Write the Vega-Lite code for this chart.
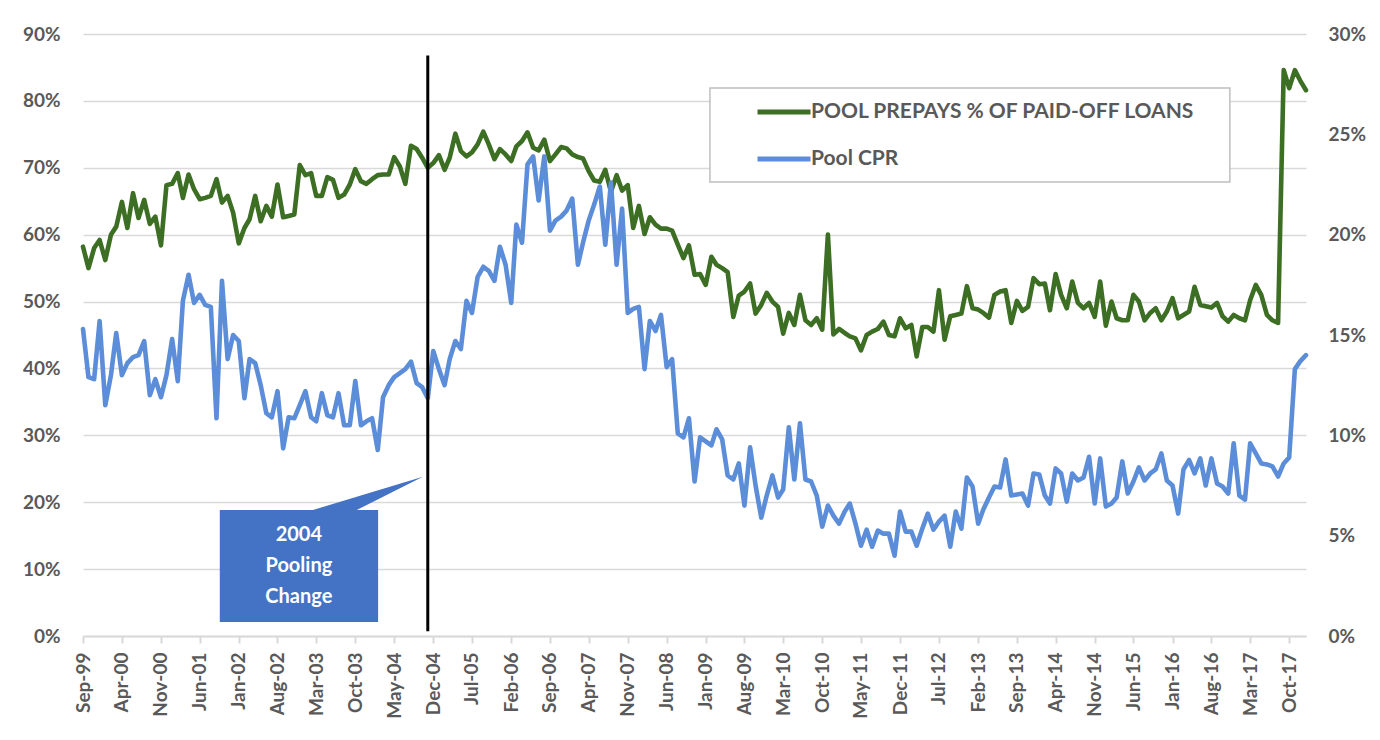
{
  "$schema": "https://vega.github.io/schema/vega-lite/v6.json",
  "width": 1223,
  "height": 602,
  "autosize": {"type": "none"},
  "padding": {"left": 83, "top": 34, "right": 74, "bottom": 104},
  "background": "white",
  "config": {
    "view": {"stroke": null},
    "font": "Lato",
    "axisX": {"labelAngle": 270, "labelOverlap": false, "tickCount": 60, "domainColor": "#d9d9d9", "domainWidth": 2, "tickColor": "#d9d9d9", "tickWidth": 2, "tickSize": 7, "grid": false, "labelFont": "Lato", "labelFontSize": 19, "labelFontWeight": "bold", "labelColor": "#595959", "labelPadding": 9}
  },
  "datasets": {
    "series": [
      {"m":"1999-09-01","prepays":58.2,"cpr":15.3},{"m":"1999-10-01","prepays":55.0,"cpr":12.9},{"m":"1999-11-01","prepays":58.0,"cpr":12.8},{"m":"1999-12-01","prepays":59.2,"cpr":15.7},
      {"m":"2000-01-01","prepays":56.2,"cpr":11.5},{"m":"2000-02-01","prepays":60.0,"cpr":13.0},{"m":"2000-03-01","prepays":61.2,"cpr":15.1},{"m":"2000-04-01","prepays":64.9,"cpr":13.0},{"m":"2000-05-01","prepays":61.0,"cpr":13.6},{"m":"2000-06-01","prepays":66.2,"cpr":13.9},{"m":"2000-07-01","prepays":62.5,"cpr":14.0},{"m":"2000-08-01","prepays":65.2,"cpr":14.7},{"m":"2000-09-01","prepays":61.6,"cpr":12.0},{"m":"2000-10-01","prepays":62.7,"cpr":12.8},{"m":"2000-11-01","prepays":58.4,"cpr":11.9},{"m":"2000-12-01","prepays":67.4,"cpr":13.0},
      {"m":"2001-01-01","prepays":67.6,"cpr":14.8},{"m":"2001-02-01","prepays":69.2,"cpr":12.7},{"m":"2001-03-01","prepays":65.5,"cpr":16.7},{"m":"2001-04-01","prepays":69.0,"cpr":18.0},{"m":"2001-05-01","prepays":66.8,"cpr":16.6},{"m":"2001-06-01","prepays":65.3,"cpr":17.0},{"m":"2001-07-01","prepays":65.5,"cpr":16.5},{"m":"2001-08-01","prepays":65.8,"cpr":16.4},{"m":"2001-09-01","prepays":68.3,"cpr":10.85},{"m":"2001-10-01","prepays":64.8,"cpr":17.7},{"m":"2001-11-01","prepays":65.8,"cpr":13.8},{"m":"2001-12-01","prepays":63.3,"cpr":15.0},
      {"m":"2002-01-01","prepays":58.7,"cpr":14.7},{"m":"2002-02-01","prepays":61.0,"cpr":11.85},{"m":"2002-03-01","prepays":62.3,"cpr":13.8},{"m":"2002-04-01","prepays":65.8,"cpr":13.6},{"m":"2002-05-01","prepays":62.0,"cpr":12.5},{"m":"2002-06-01","prepays":64.3,"cpr":11.1},{"m":"2002-07-01","prepays":62.7,"cpr":10.9},{"m":"2002-08-01","prepays":67.5,"cpr":12.2},{"m":"2002-09-01","prepays":62.6,"cpr":9.35},{"m":"2002-10-01","prepays":62.8,"cpr":10.9},{"m":"2002-11-01","prepays":63.0,"cpr":10.85},{"m":"2002-12-01","prepays":70.4,"cpr":11.5},
      {"m":"2003-01-01","prepays":68.9,"cpr":12.2},{"m":"2003-02-01","prepays":69.2,"cpr":10.9},{"m":"2003-03-01","prepays":65.8,"cpr":10.7},{"m":"2003-04-01","prepays":65.8,"cpr":12.1},{"m":"2003-05-01","prepays":68.6,"cpr":11.0},{"m":"2003-06-01","prepays":68.2,"cpr":10.9},{"m":"2003-07-01","prepays":65.5,"cpr":12.1},{"m":"2003-08-01","prepays":66.0,"cpr":10.5},{"m":"2003-09-01","prepays":67.5,"cpr":10.5},{"m":"2003-10-01","prepays":69.8,"cpr":12.7},{"m":"2003-11-01","prepays":68.0,"cpr":10.5},{"m":"2003-12-01","prepays":67.6,"cpr":10.7},
      {"m":"2004-01-01","prepays":68.3,"cpr":10.85},{"m":"2004-02-01","prepays":68.9,"cpr":9.27},{"m":"2004-03-01","prepays":69.0,"cpr":11.9},{"m":"2004-04-01","prepays":69.0,"cpr":12.5},{"m":"2004-05-01","prepays":71.6,"cpr":12.9},{"m":"2004-06-01","prepays":70.2,"cpr":13.1},{"m":"2004-07-01","prepays":67.6,"cpr":13.3},{"m":"2004-08-01","prepays":73.3,"cpr":13.67},{"m":"2004-09-01","prepays":72.8,"cpr":12.6},{"m":"2004-10-01","prepays":71.5,"cpr":12.4},{"m":"2004-11-01","prepays":70.0,"cpr":11.85},{"m":"2004-12-01","prepays":70.7,"cpr":14.2},
      {"m":"2005-01-01","prepays":71.9,"cpr":13.3},{"m":"2005-02-01","prepays":69.7,"cpr":12.5},{"m":"2005-03-01","prepays":71.5,"cpr":13.8},{"m":"2005-04-01","prepays":75.1,"cpr":14.7},{"m":"2005-05-01","prepays":72.5,"cpr":14.3},{"m":"2005-06-01","prepays":71.7,"cpr":16.7},{"m":"2005-07-01","prepays":72.3,"cpr":16.1},{"m":"2005-08-01","prepays":73.5,"cpr":17.9},{"m":"2005-09-01","prepays":75.4,"cpr":18.4},{"m":"2005-10-01","prepays":73.5,"cpr":18.2},{"m":"2005-11-01","prepays":71.3,"cpr":17.7},{"m":"2005-12-01","prepays":72.8,"cpr":19.4},
      {"m":"2006-01-01","prepays":72.0,"cpr":18.5},{"m":"2006-02-01","prepays":71.0,"cpr":16.6},{"m":"2006-03-01","prepays":73.2,"cpr":20.5},{"m":"2006-04-01","prepays":74.0,"cpr":19.6},{"m":"2006-05-01","prepays":75.3,"cpr":23.5},{"m":"2006-06-01","prepays":73.0,"cpr":23.9},{"m":"2006-07-01","prepays":72.6,"cpr":21.7},{"m":"2006-08-01","prepays":74.2,"cpr":23.9},{"m":"2006-09-01","prepays":71.0,"cpr":20.2},{"m":"2006-10-01","prepays":72.0,"cpr":20.7},{"m":"2006-11-01","prepays":73.1,"cpr":20.9},{"m":"2006-12-01","prepays":72.9,"cpr":21.2},
      {"m":"2007-01-01","prepays":72.0,"cpr":21.8},{"m":"2007-02-01","prepays":71.6,"cpr":18.5},{"m":"2007-03-01","prepays":71.4,"cpr":19.6},{"m":"2007-04-01","prepays":69.5,"cpr":20.7},{"m":"2007-05-01","prepays":68.1,"cpr":21.5},{"m":"2007-06-01","prepays":67.9,"cpr":22.4},{"m":"2007-07-01","prepays":69.7,"cpr":19.5},{"m":"2007-08-01","prepays":66.4,"cpr":22.6},{"m":"2007-09-01","prepays":68.9,"cpr":18.5},{"m":"2007-10-01","prepays":66.6,"cpr":21.3},{"m":"2007-11-01","prepays":67.4,"cpr":16.1},{"m":"2007-12-01","prepays":61.0,"cpr":16.3},
      {"m":"2008-01-01","prepays":64.3,"cpr":16.4},{"m":"2008-02-01","prepays":60.1,"cpr":13.3},{"m":"2008-03-01","prepays":62.6,"cpr":15.7},{"m":"2008-04-01","prepays":61.5,"cpr":15.2},{"m":"2008-05-01","prepays":60.9,"cpr":16.0},{"m":"2008-06-01","prepays":60.9,"cpr":13.4},{"m":"2008-07-01","prepays":60.6,"cpr":13.8},{"m":"2008-08-01","prepays":58.5,"cpr":10.1},{"m":"2008-09-01","prepays":56.5,"cpr":9.9},{"m":"2008-10-01","prepays":58.4,"cpr":10.85},{"m":"2008-11-01","prepays":54.0,"cpr":7.7},{"m":"2008-12-01","prepays":54.1,"cpr":9.9},
      {"m":"2009-01-01","prepays":52.5,"cpr":9.7},{"m":"2009-02-01","prepays":56.7,"cpr":9.5},{"m":"2009-03-01","prepays":55.5,"cpr":10.3},{"m":"2009-04-01","prepays":55.0,"cpr":9.8},{"m":"2009-05-01","prepays":54.4,"cpr":8.0},{"m":"2009-06-01","prepays":47.7,"cpr":7.8},{"m":"2009-07-01","prepays":50.9,"cpr":8.6},{"m":"2009-08-01","prepays":51.5,"cpr":6.5},{"m":"2009-09-01","prepays":52.7,"cpr":9.4},{"m":"2009-10-01","prepays":48.2,"cpr":7.5},{"m":"2009-11-01","prepays":49.5,"cpr":5.9},{"m":"2009-12-01","prepays":51.3,"cpr":7.0},
      {"m":"2010-01-01","prepays":50.0,"cpr":8.0},{"m":"2010-02-01","prepays":49.2,"cpr":6.9},{"m":"2010-03-01","prepays":45.2,"cpr":7.3},{"m":"2010-04-01","prepays":48.3,"cpr":10.4},{"m":"2010-05-01","prepays":46.5,"cpr":7.8},{"m":"2010-06-01","prepays":51.0,"cpr":10.6},{"m":"2010-07-01","prepays":47.2,"cpr":7.8},{"m":"2010-08-01","prepays":46.5,"cpr":7.7},{"m":"2010-09-01","prepays":47.5,"cpr":7.0},{"m":"2010-10-01","prepays":45.8,"cpr":5.45},{"m":"2010-11-01","prepays":60.0,"cpr":6.5},{"m":"2010-12-01","prepays":45.1,"cpr":6.0},
      {"m":"2011-01-01","prepays":45.9,"cpr":5.6},{"m":"2011-02-01","prepays":45.3,"cpr":6.2},{"m":"2011-03-01","prepays":44.8,"cpr":6.6},{"m":"2011-04-01","prepays":44.5,"cpr":5.6},{"m":"2011-05-01","prepays":42.7,"cpr":4.5},{"m":"2011-06-01","prepays":45.0,"cpr":5.3},{"m":"2011-07-01","prepays":45.5,"cpr":4.45},{"m":"2011-08-01","prepays":45.9,"cpr":5.25},{"m":"2011-09-01","prepays":47.0,"cpr":5.1},{"m":"2011-10-01","prepays":45.0,"cpr":5.1},{"m":"2011-11-01","prepays":44.8,"cpr":4.0},{"m":"2011-12-01","prepays":47.5,"cpr":6.2},
      {"m":"2012-01-01","prepays":46.0,"cpr":5.2},{"m":"2012-02-01","prepays":46.5,"cpr":5.2},{"m":"2012-03-01","prepays":41.8,"cpr":4.5},{"m":"2012-04-01","prepays":46.2,"cpr":5.35},{"m":"2012-05-01","prepays":46.2,"cpr":6.1},{"m":"2012-06-01","prepays":45.5,"cpr":5.3},{"m":"2012-07-01","prepays":51.7,"cpr":5.7},{"m":"2012-08-01","prepays":44.3,"cpr":6.0},{"m":"2012-09-01","prepays":47.8,"cpr":4.45},{"m":"2012-10-01","prepays":48.0,"cpr":6.2},{"m":"2012-11-01","prepays":48.2,"cpr":5.35},{"m":"2012-12-01","prepays":52.3,"cpr":7.9},
      {"m":"2013-01-01","prepays":49.0,"cpr":7.45},{"m":"2013-02-01","prepays":48.8,"cpr":5.6},{"m":"2013-03-01","prepays":48.3,"cpr":6.3},{"m":"2013-04-01","prepays":47.6,"cpr":6.9},{"m":"2013-05-01","prepays":51.0,"cpr":7.45},{"m":"2013-06-01","prepays":51.5,"cpr":7.4},{"m":"2013-07-01","prepays":51.7,"cpr":8.8},{"m":"2013-08-01","prepays":46.8,"cpr":7.0},{"m":"2013-09-01","prepays":50.1,"cpr":7.05},{"m":"2013-10-01","prepays":48.6,"cpr":7.1},{"m":"2013-11-01","prepays":49.2,"cpr":6.5},{"m":"2013-12-01","prepays":53.5,"cpr":8.1},
      {"m":"2014-01-01","prepays":52.6,"cpr":8.05},{"m":"2014-02-01","prepays":52.7,"cpr":7.0},{"m":"2014-03-01","prepays":48.7,"cpr":6.6},{"m":"2014-04-01","prepays":54.1,"cpr":8.35},{"m":"2014-05-01","prepays":51.0,"cpr":8.1},{"m":"2014-06-01","prepays":49.0,"cpr":6.7},{"m":"2014-07-01","prepays":53.0,"cpr":8.1},{"m":"2014-08-01","prepays":49.8,"cpr":7.75},{"m":"2014-09-01","prepays":49.0,"cpr":7.9},{"m":"2014-10-01","prepays":49.8,"cpr":8.93},{"m":"2014-11-01","prepays":47.7,"cpr":6.6},{"m":"2014-12-01","prepays":53.0,"cpr":8.85},
      {"m":"2015-01-01","prepays":46.4,"cpr":6.45},{"m":"2015-02-01","prepays":50.0,"cpr":6.6},{"m":"2015-03-01","prepays":47.5,"cpr":6.9},{"m":"2015-04-01","prepays":47.2,"cpr":8.7},{"m":"2015-05-01","prepays":47.2,"cpr":7.1},{"m":"2015-06-01","prepays":51.0,"cpr":7.7},{"m":"2015-07-01","prepays":50.0,"cpr":8.4},{"m":"2015-08-01","prepays":47.2,"cpr":7.75},{"m":"2015-09-01","prepays":48.3,"cpr":8.1},{"m":"2015-10-01","prepays":49.0,"cpr":8.3},{"m":"2015-11-01","prepays":47.2,"cpr":9.1},{"m":"2015-12-01","prepays":48.5,"cpr":7.75},
      {"m":"2016-01-01","prepays":50.5,"cpr":7.5},{"m":"2016-02-01","prepays":47.5,"cpr":6.1},{"m":"2016-03-01","prepays":48.0,"cpr":8.3},{"m":"2016-04-01","prepays":48.5,"cpr":8.77},{"m":"2016-05-01","prepays":52.2,"cpr":8.1},{"m":"2016-06-01","prepays":49.5,"cpr":8.85},{"m":"2016-07-01","prepays":49.3,"cpr":7.5},{"m":"2016-08-01","prepays":49.1,"cpr":8.85},{"m":"2016-09-01","prepays":49.8,"cpr":7.6},{"m":"2016-10-01","prepays":47.8,"cpr":7.45},{"m":"2016-11-01","prepays":47.0,"cpr":7.1},{"m":"2016-12-01","prepays":48.0,"cpr":9.6},
      {"m":"2017-01-01","prepays":47.5,"cpr":7.0},{"m":"2017-02-01","prepays":47.2,"cpr":6.8},{"m":"2017-03-01","prepays":50.2,"cpr":9.6},{"m":"2017-04-01","prepays":52.5,"cpr":9.1},{"m":"2017-05-01","prepays":51.0,"cpr":8.6},{"m":"2017-06-01","prepays":48.0,"cpr":8.55},{"m":"2017-07-01","prepays":47.2,"cpr":8.45},{"m":"2017-08-01","prepays":46.8,"cpr":7.95},{"m":"2017-09-01","prepays":84.6,"cpr":8.6},{"m":"2017-10-01","prepays":81.9,"cpr":8.9},{"m":"2017-11-01","prepays":84.6,"cpr":13.3},{"m":"2017-12-01","prepays":83.0,"cpr":13.7},
      {"m":"2018-01-01","prepays":81.6,"cpr":14.0}
    ],
    "callout": [
      {"t":"2003-02-11","top":18.84,"bottom":18.84},
      {"t":"2003-10-09","top":20.83,"bottom":18.84},
      {"t":"2004-10-05","top":23.82,"bottom":23.82}
    ]
  },
  "layer": [
    {
      "data": {"name": "series"},
      "mark": {"type": "line", "strokeWidth": 4.6, "strokeJoin": "round", "strokeCap": "round"},
      "encoding": {
        "x": {
          "field": "m", "type": "temporal",
          "scale": {"type": "utc", "nice": false, "domain": [{"year":1999,"month":9,"date":1,"utc":true},{"year":2018,"month":1,"date":1,"utc":true}]},
          "axis": {
            "title": null, "labelExpr": "utcFormat(datum.value, '%b-%y')", "tickCount": 60,
            "values": [
              {"year":1999,"month":9,"date":1,"utc":true},{"year":2000,"month":4,"date":1,"utc":true},{"year":2000,"month":11,"date":1,"utc":true},
              {"year":2001,"month":6,"date":1,"utc":true},{"year":2002,"month":1,"date":1,"utc":true},{"year":2002,"month":8,"date":1,"utc":true},
              {"year":2003,"month":3,"date":1,"utc":true},{"year":2003,"month":10,"date":1,"utc":true},{"year":2004,"month":5,"date":1,"utc":true},
              {"year":2004,"month":12,"date":1,"utc":true},{"year":2005,"month":7,"date":1,"utc":true},{"year":2006,"month":2,"date":1,"utc":true},
              {"year":2006,"month":9,"date":1,"utc":true},{"year":2007,"month":4,"date":1,"utc":true},{"year":2007,"month":11,"date":1,"utc":true},
              {"year":2008,"month":6,"date":1,"utc":true},{"year":2009,"month":1,"date":1,"utc":true},{"year":2009,"month":8,"date":1,"utc":true},
              {"year":2010,"month":3,"date":1,"utc":true},{"year":2010,"month":10,"date":1,"utc":true},{"year":2011,"month":5,"date":1,"utc":true},
              {"year":2011,"month":12,"date":1,"utc":true},{"year":2012,"month":7,"date":1,"utc":true},{"year":2013,"month":2,"date":1,"utc":true},
              {"year":2013,"month":9,"date":1,"utc":true},{"year":2014,"month":4,"date":1,"utc":true},{"year":2014,"month":11,"date":1,"utc":true},
              {"year":2015,"month":6,"date":1,"utc":true},{"year":2016,"month":1,"date":1,"utc":true},{"year":2016,"month":8,"date":1,"utc":true},
              {"year":2017,"month":3,"date":1,"utc":true},{"year":2017,"month":10,"date":1,"utc":true}
            ]
          }
        },
        "y": {
          "field": "prepays", "type": "quantitative",
          "scale": {"domain": [0, 90], "nice": false, "zero": true},
          "axis": {
            "title": null, "orient": "left", "values": [0,10,20,30,40,50,60,70,80,90],
            "labelExpr": "datum.value + '%'", "grid": true, "gridColor": "#d9d9d9", "gridWidth": 1.5,
            "domain": false, "ticks": false, "tickSize": 0, "labelPadding": 23,
            "labelFont": "Lato", "labelFontSize": 19, "labelFontWeight": "bold", "labelColor": "#595959"
          }
        },
        "color": {
          "datum": "POOL PREPAYS % OF PAID-OFF LOANS",
          "scale": {"domain": ["POOL PREPAYS % OF PAID-OFF LOANS", "Pool CPR"], "range": ["#3c6e23", "#5b8dd9"]},
          "legend": {
            "title": null, "orient": "none", "legendX": 627, "legendY": 52, "direction": "vertical",
            "symbolType": "M-2,0H2", "symbolSize": 702, "symbolStrokeWidth": 5,
            "symbolOffset": 48, "labelOffset": 11, "padding": 10, "rowPadding": 21,
            "strokeColor": null, "fillColor": null,
            "labelFont": "Lato", "labelFontSize": 21, "labelFontWeight": "bold", "labelColor": "#595959", "labelLimit": 900
          }
        }
      }
    },
    {
      "data": {"name": "series"},
      "mark": {"type": "line", "strokeWidth": 4.6, "strokeJoin": "round", "strokeCap": "round"},
      "encoding": {
        "x": {"field": "m", "type": "temporal"},
        "y": {
          "field": "cpr", "type": "quantitative",
          "scale": {"domain": [0, 30], "nice": false},
          "axis": {
            "title": null, "orient": "right", "values": [0,5,10,15,20,25,30],
            "labelExpr": "datum.value + '%'", "grid": false, "domain": false, "ticks": false, "tickSize": 0, "labelPadding": 22,
            "labelFont": "Lato", "labelFontSize": 19, "labelFontWeight": "bold", "labelColor": "#595959"
          }
        },
        "color": {"datum": "Pool CPR"}
      }
    },
    {
      "layer": [
        {
          "data": {"values": [{}]},
          "mark": {"type": "rect", "fill": "white", "stroke": "#bfbfbf", "strokeWidth": 1.5},
          "encoding": {
            "x": {"datum": {"year":2009,"month":1,"date":24,"utc":true}, "type": "temporal"},
            "x2": {"datum": {"year":2016,"month":11,"date":10,"utc":true}},
            "y": {"datum": 81.93, "type": "quantitative", "scale": {"domain": [0, 90], "nice": false}, "axis": null},
            "y2": {"datum": 67.87}
          }
        },
        {
          "data": {"values": [{}]},
          "mark": {"type": "rule", "color": "black", "strokeWidth": 3},
          "encoding": {
            "x": {"datum": {"year":2004,"month":11,"date":1,"utc":true}, "type": "temporal"},
            "y": {"datum": 86.8, "type": "quantitative", "scale": {"domain": [0, 90], "nice": false}, "axis": null},
            "y2": {"datum": 0.7}
          }
        },
        {
          "data": {"values": [{}]},
          "mark": {"type": "rect", "color": "#4472c4", "opacity": 1},
          "encoding": {
            "x": {"datum": {"year":2001,"month":9,"date":19,"utc":true}, "type": "temporal"},
            "x2": {"datum": {"year":2004,"month":2,"date":3,"utc":true}},
            "y": {"datum": 18.84, "type": "quantitative", "scale": {"domain": [0, 90], "nice": false}, "axis": null},
            "y2": {"datum": 2.09}
          }
        },
        {
          "data": {"name": "callout"},
          "mark": {"type": "area", "color": "#4472c4", "opacity": 1, "interpolate": "linear"},
          "encoding": {
            "x": {"field": "t", "type": "temporal"},
            "y": {"field": "top", "type": "quantitative", "scale": {"domain": [0, 90], "nice": false}, "axis": null},
            "y2": {"field": "bottom"}
          }
        },
        {
          "data": {"values": [{}]},
          "mark": {"type": "text", "text": "2004\nPooling\nChange", "lineBreak": "\n", "lineHeight": 31, "align": "center", "baseline": "middle", "font": "Lato", "fontSize": 20, "fontWeight": "bold", "color": "white"},
          "encoding": {
            "x": {"datum": {"year":2002,"month":11,"date":26,"utc":true}, "type": "temporal"},
            "y": {"datum": 15.1, "type": "quantitative", "scale": {"domain": [0, 90], "nice": false}, "axis": null}
          }
        }
      ]
    }
  ],
  "resolve": {"scale": {"y": "independent"}}
}
